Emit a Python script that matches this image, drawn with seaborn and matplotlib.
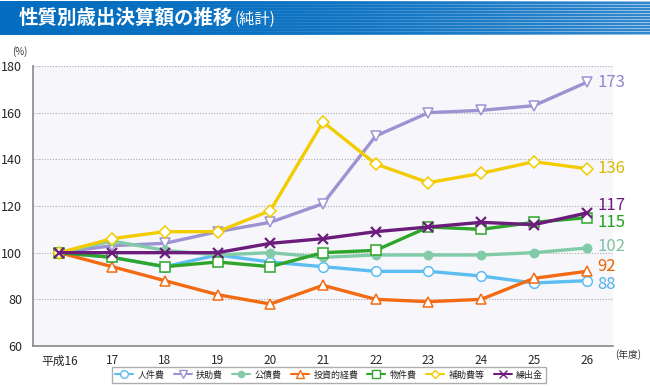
import numpy as np
import pandas as pd
import matplotlib
matplotlib.use('Agg')
import matplotlib.pyplot as plt
import seaborn as sns
from matplotlib.lines import Line2D

sns.set_style('white')
plt.rcParams['font.family'] = ['Noto Sans CJK JP', 'DejaVu Sans']

# Data (index, 平成16 = 100)
years = ['平成16', '17', '18', '19', '20', '21', '22', '23', '24', '25', '26']
jinkenhi = [100, 98, 94, 99, 96, 94, 92, 92, 90, 87, 88]
fujohi = [100, 103, 104, 109, 113, 121, 150, 160, 161, 163, 173]
kousaihi = [100, 105, 101, 99, 100, 98, 99, 99, 99, 100, 102]
toushi = [100, 94, 88, 82, 78, 86, 80, 79, 80, 89, 92]
bukkenhi = [100, 98, 94, 96, 94, 100, 101, 111, 110, 113, 115]
hojohi = [100, 106, 109, 109, 118, 156, 138, 130, 134, 139, 136]
kuridashi = [100, 100, 100, 100, 104, 106, 109, 111, 113, 112, 117]

series_names = ['人件費', '扶助費', '公債費', '投資的経費', '物件費', '補助費等', '繰出金']
series_values = [jinkenhi, fujohi, kousaihi, toushi, bukkenhi, hojohi, kuridashi]
colors = ['#5bbdf0', '#9d93d2', '#82cba8', '#f26b12', '#2fa52c', '#f2cc00', '#6c1d7c']
label_colors = ['#4fb3ea', '#9186c8', '#7cc2a0', '#ee6000', '#22a01e', '#dcb800', '#6c1d7c']
markers = ['o', 'v', 'o', '^', 's', 'D', 'x']
filled = [False, False, True, False, False, False, True]
msizes = [7, 7, 6, 7, 7, 6, 7]

df = pd.DataFrame({
    'year': np.tile(np.arange(len(years)), len(series_names)),
    'value': np.concatenate(series_values),
    'series': np.repeat(series_names, len(years)),
})

fig = plt.figure(figsize=(6.5, 3.86), dpi=100)
W, H = 650, 386

# Title banner
bax = fig.add_axes([0, 1 - 35 / H, 1, 34 / H])
grad = np.linspace(0, 1, 300)
stripe = (np.arange(34) % 3 == 0).astype(float)[:, None]
base = np.array([0.02, 0.43, 0.75])
light = np.array([0.62, 0.78, 0.92])
t = (grad[None, :] ** 2) * (0.3 + 0.7 * stripe)
img = base[None, None, :] * (1 - t[..., None]) + light[None, None, :] * t[..., None]
bax.imshow(img, aspect='auto', extent=[0, 1, 0, 1])
bax.set_axis_off()
title = fig.text(19 / W, 1 - 18 / H, '性質別歳出決算額の推移', color='white', fontsize=14,
                 fontweight='bold', va='center', ha='left')
fig.canvas.draw()
bb = title.get_window_extent()
fig.text(bb.x1 / W + 1 / W, 1 - 19 / H, '(純計)', color='white', fontsize=11,
         va='center', ha='left')

ax = fig.add_axes([33 / W, 1 - 346 / H, 580 / W, 280 / H])
ax.set_facecolor('#f7f7fb')

for name, c, m, f, ms in zip(series_names, colors, markers, filled, msizes):
    sub = df[df['series'] == name]
    sns.lineplot(data=sub, x='year', y='value', ax=ax, color=c, linewidth=2.4,
                 marker=m, markersize=ms,
                 markerfacecolor=(c if f else 'white'), markeredgecolor=c,
                 markeredgewidth=1.6 if m == 'x' else 1.1, zorder=3)

# end labels
label_offsets = {'繰出金': 3, '物件費': -2, '投資的経費': 2, '人件費': -1.5, '公債費': 0.5}
for name, vals, c in zip(series_names, series_values, label_colors):
    ax.text(len(years) - 1 + 0.2, vals[-1] + label_offsets.get(name, 0), str(vals[-1]),
            color=c, fontsize=12, va='center', ha='left', clip_on=False)

ax.set_xlim(-0.5, len(years) - 0.5)
ax.set_ylim(60, 180)
ax.set_yticks(range(60, 181, 20))
ax.set_xticks(range(len(years)))
ax.set_xticklabels(years)
ax.set_xticks(np.arange(0.5, len(years), 1), minor=True)
ax.tick_params(axis='x', which='major', length=0, labelsize=8.5, pad=6)
ax.tick_params(axis='x', which='minor', direction='in', length=5, color='#777777', width=1)
ax.tick_params(axis='y', length=0, labelsize=9, pad=8)
ax.set_xlabel('')
ax.set_ylabel('')
for v in range(80, 181, 20):
    ax.axhline(v, color='#aaaaaa', linestyle=(0, (1, 1.5)), linewidth=0.8, zorder=1)
for s in ['top', 'right']:
    ax.spines[s].set_visible(False)
for s in ['left', 'bottom']:
    ax.spines[s].set_color('#888888')
    ax.spines[s].set_linewidth(1.2)

fig.text(12 / W, 1 - 52 / H, '(%)', fontsize=7, va='center', ha='left', color='#333333')
fig.text(628 / W, 1 - 355 / H, '(年度)', fontsize=7, va='center', ha='center', color='#333333')

handles = [Line2D([0], [0], color=c, marker=m, markersize=ms - 1.5, linewidth=1.5,
                  markerfacecolor=(c if f else 'white'), markeredgecolor=c)
           for c, m, f, ms in zip(colors, markers, filled, msizes)]
leg = fig.legend(handles, series_names, loc='center', bbox_to_anchor=(329 / W, 1 - 375 / H),
                 ncol=7, fontsize=6.5, frameon=True, fancybox=False, handlelength=2.0,
                 columnspacing=1.0, handletextpad=0.5, borderpad=0.35)
leg.get_frame().set_edgecolor('#999999')
leg.get_frame().set_linewidth(1)

fig.savefig('out.png', dpi=100)
